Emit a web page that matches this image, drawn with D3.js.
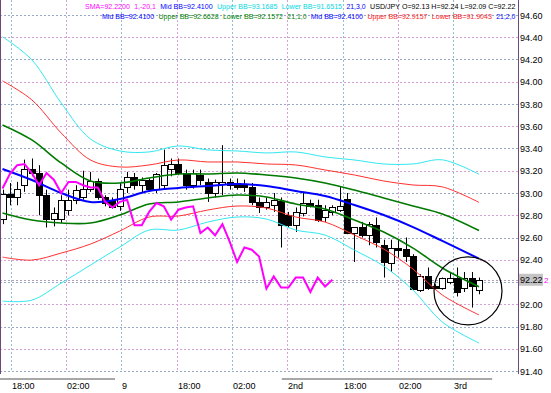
<!DOCTYPE html>
<html>
<head>
<meta charset="utf-8">
<script src="https://cdn.jsdelivr.net/npm/d3@7/dist/d3.min.js"></script>
<style>
  body { margin: 0; background: #fff; }
  svg { display: block; }
  text { font-family: "Liberation Sans", Arial, sans-serif; }
</style>
</head>
<body>
<svg id="canvas" width="551" height="393"></svg>
<script>
// USD/JPY hourly bars
let opens  = [92.77,92.99,92.96,93.07,93.22,93.18,92.98,92.77,92.77,92.85,92.94,92.96,93.04,93.11,92.96,92.94,92.88,93.05,93.14,93.07,93.12,93.04,93.07,93.22,93.26,93.18,93.07,93.16,93.10,93.00,93.08,93.10,93.09,93.08,93.05,92.92,92.87,92.89,92.93,92.80,92.71,92.82,92.91,92.89,92.78,92.83,92.85,92.95,92.64,92.69,92.62,92.71,92.53,92.37,92.51,92.50,92.43,92.13,92.25,92.16,92.15,92.20,92.24,92.15,92.24,92.13]
let highs  = [93.03,93.09,93.10,93.30,93.31,93.25,93.03,92.87,92.98,93.03,93.07,93.20,93.19,93.13,92.98,92.96,93.09,93.19,93.18,93.14,93.13,93.18,93.39,93.31,93.31,93.21,93.21,93.21,93.13,93.12,93.43,93.13,93.13,93.12,93.09,92.96,92.96,93.00,92.96,92.83,92.87,93.01,92.94,92.94,92.89,92.89,93.06,93.00,92.69,92.74,92.74,92.78,92.58,92.58,92.58,92.60,92.45,92.27,92.33,92.18,92.24,92.29,92.33,92.29,92.29,92.24]
let lows   = [92.72,92.89,92.89,93.01,93.15,92.80,92.69,92.70,92.73,92.80,92.90,92.94,93.01,92.94,92.88,92.86,92.84,93.00,93.03,93.00,93.01,93.00,93.03,93.15,93.16,93.03,93.04,93.07,92.92,92.96,92.98,93.03,93.03,93.01,92.89,92.82,92.85,92.83,92.51,92.69,92.65,92.79,92.87,92.74,92.74,92.80,92.83,92.63,92.38,92.60,92.53,92.51,92.24,92.29,92.42,92.38,92.13,92.11,92.13,92.13,92.13,92.18,92.07,92.11,91.97,92.09]
let closes = [92.99,92.96,93.04,93.22,93.18,92.98,92.77,92.82,92.94,92.94,93.03,93.04,93.11,92.96,92.91,92.87,93.04,93.14,93.07,93.12,93.04,93.17,93.25,93.26,93.18,93.07,93.18,93.12,93.00,93.10,93.10,93.07,93.05,93.05,92.92,92.87,92.92,92.94,92.71,92.71,92.83,92.91,92.88,92.76,92.85,92.87,92.88,92.64,92.69,92.62,92.72,92.56,92.38,92.51,92.49,92.43,92.14,92.25,92.15,92.15,92.24,92.24,92.11,92.24,92.16,92.22]

// Bollinger (21) middle line and std deviation, read every 4 bars
let bandBars    = [0,4,8,12,16,20,24,28,32,36,40,44,48,52,56,60,65]
let midValues   = [93.216,93.117,93.000,92.919,92.946,93.018,93.045,93.063,93.081,93.063,93.018,92.973,92.892,92.802,92.694,92.569,92.410]
let sigmaValues = [0.396,0.360,0.270,0.189,0.144,0.117,0.126,0.108,0.099,0.099,0.117,0.117,0.135,0.153,0.189,0.243,0.2528]

// SMA(1) shifted -20 bars = closes drawn 20 bars to the left
let smaShift = 20

let priceTicks = [91.4,91.6,91.8,92.0,92.2,92.4,92.6,92.8,93.0,93.2,93.4,93.6,93.8,94.0,94.2,94.4,94.6]
let timeTickBars   = [1.2, 8.7, 16.2, 23.8, 31.3, 38.8, 46.4, 53.9, 61.5]
let timeTickLabels = ['18:00','02:00','9','18:00','02:00','2nd','18:00','02:00','3rd']
let sessionRanges  = [[-0.35, 15.35], [38.1, 66.8]]
let lastPrice = 92.22
let circleMark = {bar: 63.5, price: 92.12}

let legendLine1 = [
  ['SMA=92.2200', '#ff00ff'], ['1,-20,1', '#ff00ff'], ['Mid BB=92.4100', '#0000ff'],
  ['Upper BB=93.1685', '#00d8e0'], ['Lower BB=91.6515', '#00d8e0'], ['21,3,0', '#0000ff'],
  ['USD/JPY O=92.13 H=92.24 L=92.09 C=92.22', '#000000']
]
let legendLine2 = [
  ['Mid BB=92.4100', '#0000ff'], ['Upper BB=92.6628', '#008000'], ['Lower BB=92.1572', '#008000'],
  ['21,1,0', '#008000'], ['Mid BB=92.4100', '#0000ff'], ['Upper BB=92.9157', '#ff2020'],
  ['Lower BB=91.9043', '#ff2020'], ['21,2,0', '#0000ff']
]

let canvas = d3.select('#canvas')
let plotW = 518, plotH = 374

let x = d3.scaleLinear().domain([0, 65]).range([2.5, 479])
let y = d3.scaleLinear().domain([91.4, 94.6]).range([371, 15])

let gridColors = ['#98a8c8', '#d8a0d8']

// horizontal grid
canvas.append('g').selectAll('line')
  .data(priceTicks)
  .enter().append('line')
  .attr('x1', 0).attr('x2', plotW)
  .attr('y1', d => Math.round(y(d)) + 0.5).attr('y2', d => Math.round(y(d)) + 0.5)
  .attr('stroke', (d, i) => gridColors[i % 2])
  .attr('stroke-dasharray', '2,2')

// vertical grid
canvas.append('g').selectAll('line')
  .data(timeTickBars)
  .enter().append('line')
  .attr('x1', d => Math.round(x(d)) + 0.5).attr('x2', d => Math.round(x(d)) + 0.5)
  .attr('y1', 0).attr('y2', plotH - 2)
  .attr('stroke', (d, i) => i % 2 ? '#d8a0d8' : '#90c0cc')
  .attr('stroke-dasharray', '2,2')

// bid line
canvas.append('line')
  .attr('x1', 0).attr('x2', plotW)
  .attr('y1', Math.round(y(lastPrice)) + 0.5).attr('y2', Math.round(y(lastPrice)) + 0.5)
  .attr('stroke', '#b0a0b8').attr('stroke-dasharray', '2,2')

// candles
let bars = d3.range(opens.length)
let candles = canvas.append('g').selectAll('g')
  .data(bars)
  .enter().append('g')

candles.append('line')
  .attr('x1', i => Math.round(x(i)) + 0.5).attr('x2', i => Math.round(x(i)) + 0.5)
  .attr('y1', i => y(highs[i])).attr('y2', i => y(lows[i]))
  .attr('stroke', '#000').attr('stroke-width', 1)

candles.append('rect')
  .attr('x', i => Math.round(x(i)) - 2.5)
  .attr('width', 6)
  .attr('y', i => Math.round(y(Math.max(opens[i], closes[i]))) + 0.5)
  .attr('height', i => Math.max(0, Math.round(y(Math.min(opens[i], closes[i]))) - Math.round(y(Math.max(opens[i], closes[i])))))
  .attr('fill', i => closes[i] >= opens[i] ? '#fff' : '#000')
  .attr('stroke', '#000').attr('stroke-width', 1)

// bands
let bandLine = k => d3.line()
  .x((d, i) => x(bandBars[i]))
  .y((d, i) => y(midValues[i] + k * sigmaValues[i]))
  .curve(d3.curveCatmullRom)

let bandStyles = [
  {k: 3, color: '#30e8f0', w: 1}, {k: -3, color: '#30e8f0', w: 1},
  {k: 2, color: '#ff3030', w: 1}, {k: -2, color: '#ff3030', w: 1},
  {k: 1, color: '#007a00', w: 1.6}, {k: -1, color: '#007a00', w: 1.6},
  {k: 0, color: '#0000ff', w: 2}
]
bandStyles.forEach(s => {
  canvas.append('path')
    .attr('d', bandLine(s.k)(midValues))
    .attr('fill', 'none')
    .attr('stroke', s.color)
    .attr('stroke-width', s.w)
})

// shifted SMA (magenta)
let smaValues = closes.slice(smaShift)
canvas.append('path')
  .attr('d', d3.line().x((d, i) => x(i)).y(d => y(d))(smaValues))
  .attr('fill', 'none')
  .attr('stroke', '#ff00ff')
  .attr('stroke-width', 2)

// circle annotation
canvas.append('circle')
  .attr('cx', x(circleMark.bar)).attr('cy', y(circleMark.price))
  .attr('r', 34)
  .attr('fill', 'none').attr('stroke', '#000').attr('stroke-width', 1.2)

// frame
canvas.append('line').attr('x1', 0.5).attr('x2', 0.5).attr('y1', 0).attr('y2', plotH)
  .attr('stroke', '#6a4a7a')
canvas.append('line').attr('x1', plotW + 0.5).attr('x2', plotW + 0.5).attr('y1', 0).attr('y2', plotH)
  .attr('stroke', '#6a4a7a')

// legend: runs laid out left to right, then squeezed to fit the space up to the frame
let drawLegend = (items, xStart, yBase) => {
  let gap = 4
  let g = canvas.append('g')
  let texts = items.map(d => g.append('text')
    .attr('y', yBase)
    .attr('font-size', 7.6)
    .attr('fill', d[1])
    .text(d[0]))
  let widths = texts.map(t => t.node().getComputedTextLength())
  let total = d3.sum(widths) + gap * (items.length - 1)
  let k = (plotW - 2 - xStart) / total
  let cx = xStart
  texts.forEach((t, i) => {
    t.attr('x', cx)
     .attr('textLength', widths[i] * k - 0.6)
     .attr('lengthAdjust', 'spacingAndGlyphs')
    cx += (widths[i] + gap) * k
  })
}
drawLegend(legendLine1, 85, 9)
drawLegend(legendLine2, 102, 19)

// right price axis (the tick hidden under the current price tag is left out)
canvas.append('g').selectAll('text')
  .data(priceTicks.filter(d => Math.abs(d - lastPrice) > 0.05))
  .enter().append('text')
  .attr('x', 520)
  .attr('y', d => y(d) + 3.5)
  .attr('font-size', 9)
  .attr('fill', '#000')
  .text(d => d.toFixed(2))

// current price tag
canvas.append('rect')
  .attr('x', 519).attr('y', y(lastPrice) - 6)
  .attr('width', 24).attr('height', 12)
  .attr('fill', '#c4c4c4')
canvas.append('text')
  .attr('x', 520).attr('y', y(lastPrice) + 3.5)
  .attr('font-size', 9).attr('fill', '#000')
  .text(lastPrice.toFixed(2))
canvas.append('text')
  .attr('x', 544).attr('y', y(lastPrice) + 3.5)
  .attr('font-size', 8).attr('fill', '#ff00ff')
  .text('2')

// session bars under the plot
canvas.append('g').selectAll('rect')
  .data(sessionRanges)
  .enter().append('rect')
  .attr('x', d => x(d[0]))
  .attr('width', d => x(d[1]) - x(d[0]))
  .attr('y', 378).attr('height', 2)
  .attr('fill', '#a8a8a8')

// time labels
canvas.append('g').selectAll('text')
  .data(timeTickBars)
  .enter().append('text')
  .attr('x', d => Math.round(x(d)) + 1)
  .attr('y', 389)
  .attr('font-size', 9)
  .attr('fill', '#000')
  .text((d, i) => timeTickLabels[i])
</script>
</body>
</html>
